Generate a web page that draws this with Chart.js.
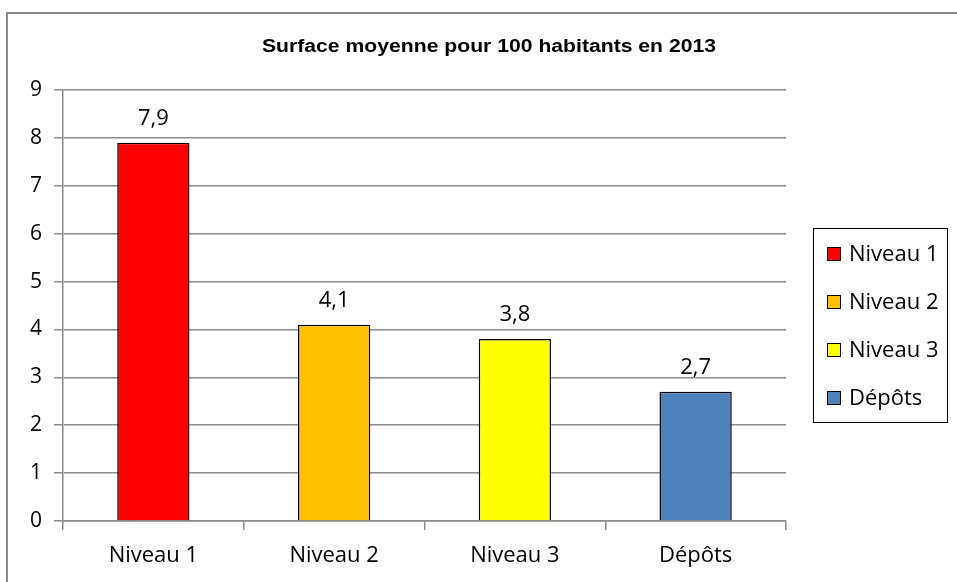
<!DOCTYPE html>
<html>
<head>
<meta charset="utf-8">
<script src="https://cdn.jsdelivr.net/npm/chart.js@4"></script>
<style>
  body { margin: 0; background: #fff; }
  canvas { display: block; }
</style>
</head>
<body>
<canvas id="surfaceChart" width="957" height="582"></canvas>
<script>
const categories = ['Niveau 1', 'Niveau 2', 'Niveau 3', 'Dépôts'];
const surfaceValues = [7.9, 4.1, 3.8, 2.7];
const barColors = ['#FF0000', '#FFC000', '#FFFF00', '#4F81BD'];
const yTicks = [0, 1, 2, 3, 4, 5, 6, 7, 8, 9];
const chartTitle = 'Surface moyenne pour 100 habitants en 2013';

const fontTxt = "'Open Sans', Lato, sans-serif";

// cadre, titre, etiquettes et legende
const decor = {
    id: 'decor',
    beforeDraw(chart) {
        const ctx = chart.ctx;
        ctx.save();
        ctx.fillStyle = '#fff';
        ctx.fillRect(0, 0, chart.width, chart.height);
        ctx.strokeStyle = '#8a8a8a';
        ctx.lineWidth = 2;
        ctx.beginPath();
        ctx.moveTo(7, chart.height + 5);
        ctx.lineTo(7, 13);
        ctx.lineTo(chart.width + 5, 13);
        ctx.stroke();
        ctx.restore();
    },
    afterDraw(chart) {
        const ctx = chart.ctx;
        ctx.save();
        ctx.fillStyle = '#000';
        ctx.font = "bold 18px 'Liberation Sans', Arial, sans-serif";
        ctx.textAlign = 'center';
        ctx.textBaseline = 'middle';
        // titre un peu etire comme l'original
        const w = ctx.measureText(chartTitle).width;
        ctx.translate(489, 47);
        ctx.scale(454 / w, 1);
        ctx.fillText(chartTitle, 0, 0);
        ctx.setTransform(1, 0, 0, 1, 0, 0);

        // valeurs au-dessus des barres
        const meta = chart.getDatasetMeta(0);
        ctx.font = '22px ' + fontTxt;
        ctx.textBaseline = 'alphabetic';
        meta.data.forEach((bar, i) => {
            const txt = String(surfaceValues[i]).replace('.', ',');
            ctx.fillText(txt, bar.x, bar.y - 18);
        });

        // legende encadree
        ctx.strokeStyle = '#000';
        ctx.lineWidth = 1;
        ctx.strokeRect(813.5, 228.5, 134, 194);
        ctx.textAlign = 'left';
        ctx.textBaseline = 'middle';
        categories.forEach((c, i) => {
            const y = 254 + i * 48;
            ctx.fillStyle = barColors[i];
            ctx.fillRect(827, y - 7, 14, 14);
            ctx.strokeRect(827.5, y - 6.5, 13, 13);
            ctx.fillStyle = '#000';
            ctx.fillText(c, 849, y + 1);
        });
        ctx.restore();
    }
};

const grafica = document.getElementById('surfaceChart');

const myChart = new Chart(grafica, {
    type: 'bar',
    data: {
        labels: categories,
        datasets: [{
            label: 'Surface',
            data: surfaceValues,
            backgroundColor: barColors,
            borderColor: '#000',
            borderWidth: 1.5,
            barPercentage: 0.4,
            categoryPercentage: 1
        }]
    },
    options: {
        responsive: false,
        animation: false,
        layout: {
            padding: { top: 90, right: 957 - 786, left: 0, bottom: 0 }
        },
        plugins: {
            legend: { display: false },
            title: { display: false },
            tooltip: { enabled: false }
        },
        scales: {
            x: {
                offset: true,
                afterFit(scale) { scale.height = 582 - 521; },
                grid: {
                    offset: true,
                    drawOnChartArea: false,
                    color: '#8a8a8a',
                    tickLength: 9,
                    lineWidth: 1.5
                },
                border: { color: '#8a8a8a', width: 1.5 },
                ticks: {
                    color: '#000',
                    padding: 13,
                    font: { family: fontTxt, size: 22 }
                }
            },
            y: {
                min: 0,
                max: 9,
                afterFit(scale) { scale.width = 63; },
                afterBuildTicks(scale) {
                    scale.ticks = yTicks.map(v => ({ value: v }));
                },
                grid: {
                    color: '#8a8a8a',
                    lineWidth: 1.5,
                    tickLength: 9
                },
                border: { color: '#8a8a8a', width: 1.5 },
                ticks: {
                    color: '#000',
                    padding: 12,
                    font: { family: fontTxt, size: 21 }
                }
            }
        }
    },
    plugins: [decor]
});
</script>
</body>
</html>
